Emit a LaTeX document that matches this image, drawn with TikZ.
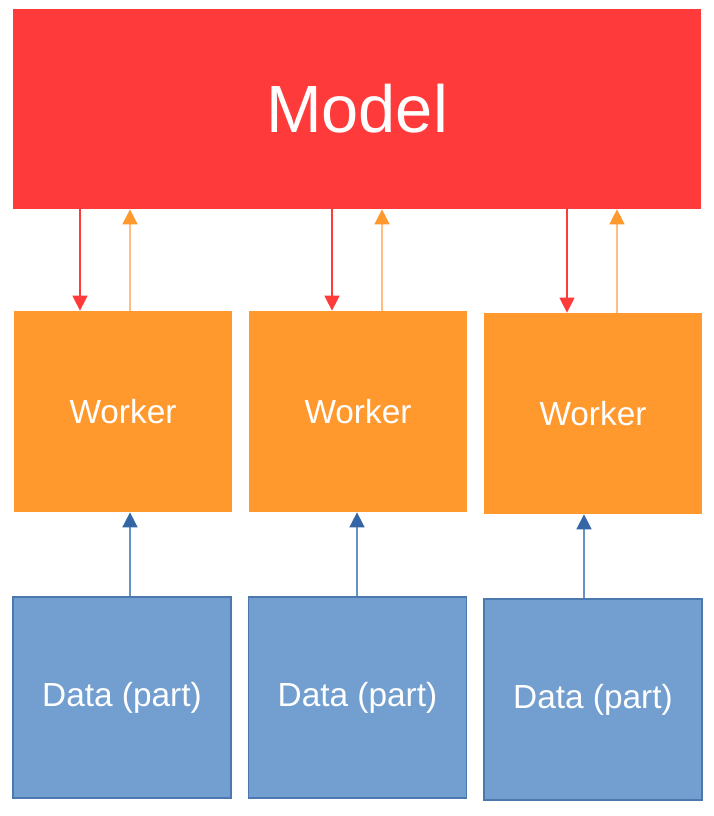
\documentclass[tikz,border=0pt]{standalone}
\usepackage{fontspec}
\setmainfont{Liberation Sans}
\usetikzlibrary{arrows.meta}

\definecolor{modelred}{RGB}{255,58,58}
\definecolor{workerorange}{RGB}{255,153,46}
\definecolor{lightorange}{RGB}{255,190,130}
\definecolor{datablue}{RGB}{114,159,207}
\definecolor{dataedge}{RGB}{75,120,175}
\definecolor{arrowblue}{RGB}{52,101,164}

\tikzset{
  box/.style={rectangle, minimum width=218*0.02cm, minimum height=201*0.02cm, inner sep=0pt, text=white, font=\fontsize{19}{22}\selectfont},
  worker/.style={box, fill=workerorange},
  data/.style={box, fill=datablue, draw=dataedge, line width=0.6pt},
  down/.style={draw=modelred, line width=0.6pt, -{Triangle[width=8.5pt,length=8.5pt]}},
  up/.style={draw=lightorange, line width=0.9pt, -{Triangle[width=8.5pt,length=8.5pt,color=workerorange]}},
  feed/.style={draw=datablue!80!arrowblue, line width=0.9pt, -{Triangle[width=8.5pt,length=8.5pt,color=arrowblue]}}
}

\begin{document}
\begin{tikzpicture}[x=0.02cm, y=-0.02cm]
    \useasboundingbox (0,0) rectangle (714,816);

    \node[rectangle, fill=modelred, minimum width=688*0.02cm, minimum height=200*0.02cm, inner sep=0pt, text=white, font=\fontsize{38}{44}\selectfont] (model) at (357, 109) {Model};

    \node[worker] (w1) at (123, 411.5) {Worker};
    \node[worker] (w2) at (358, 411.5) {Worker};
    \node[worker] (w3) at (593, 413.5) {Worker};

    \node[data] (d1) at (122, 697.5) {Data (part)};
    \node[data] (d2) at (357.5, 697.5) {Data (part)};
    \node[data] (d3) at (593, 699.5) {Data (part)};

    % Model <-> Worker
    \foreach \i/\r/\u in {1/80/130, 2/332/382, 3/567/617} {
        \coordinate (r\i) at (\r, 0);
        \coordinate (u\i) at (\u, 0);
        \draw[down] (model.south -| r\i) -- (w\i.north -| r\i);
        \draw[up] (w\i.north -| u\i) -- (model.south -| u\i);
    }

    % Data -> Worker
    \foreach \i/\f in {1/130, 2/357, 3/584} {
        \coordinate (f\i) at (\f, 0);
        \draw[feed] (d\i.north -| f\i) -- (w\i.south -| f\i);
    }
\end{tikzpicture}
\end{document}
